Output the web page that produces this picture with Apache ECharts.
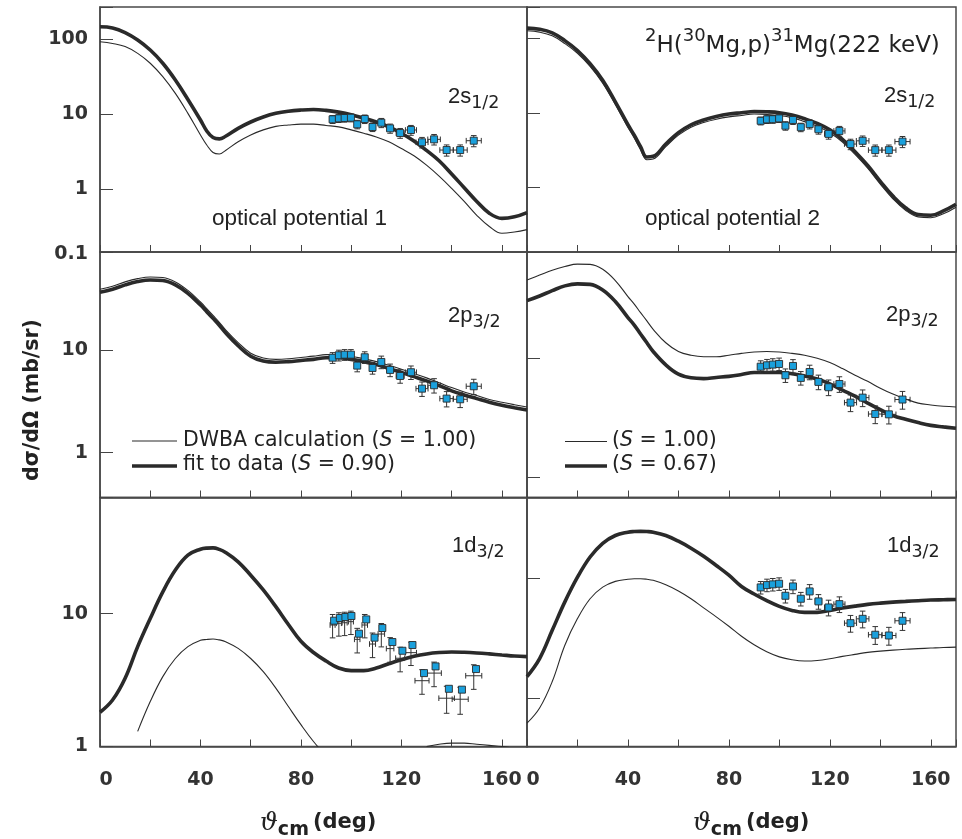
<!DOCTYPE html>
<html><head><meta charset="utf-8">
<script src="https://cdn.jsdelivr.net/npm/echarts@6.0.0/dist/echarts.min.js"></script>
<style>html,body{margin:0;padding:0;background:#fff}#c{width:962px;height:839px}</style>
</head><body><div id="c"></div>
<script>
// ---------- curve angles (deg) ----------
const curveAngles = [0,5,10,15,20,25,30,35,40,42.5,45,47.5,50,55,60,65,70,75,80,85,90,95,100,105,110,115,120,125,130,135,140,145,150,155,160,165,170];
// ---------- 2s1/2 ----------
const tlFit  = [147,142,123,98,72,48,28.7,15.8,8.4,6.0,4.9,4.7,5.1,6.5,7.9,9.2,10.3,11.0,11.4,11.6,11.3,10.7,9.9,8.9,7.9,6.8,5.6,4.4,3.3,2.4,1.6,1.05,0.69,0.48,0.41,0.43,0.49];
const tlDwba = [93,88,80,65,48,31.8,19,10.3,5.3,3.9,3.1,2.96,3.3,4.3,5.3,6.2,6.9,7.2,7.4,7.4,7.1,6.8,6.2,5.6,5.0,4.3,3.5,2.8,2.1,1.5,1.03,0.69,0.45,0.32,0.26,0.27,0.29];
const trFit  = [137,132,118,93,68.5,45.5,27.3,14,6.9,5.0,3.5,2.55,2.6,3.8,5.4,6.9,8.0,8.9,9.6,10.0,10.4,10.3,10.0,9.3,8.3,7.2,5.9,4.4,3.0,1.96,1.2,0.76,0.53,0.43,0.42,0.48,0.59];
const trDwba = [126,121,108,85,63,42,25,12.9,6.4,4.6,3.2,2.34,2.39,3.5,5.0,6.4,7.4,8.2,8.8,9.2,9.6,9.5,9.2,8.6,7.6,6.6,5.4,4.05,2.76,1.8,1.1,0.7,0.49,0.4,0.39,0.44,0.54];
// ---------- 2p3/2 ----------
const mlFit  = [36.5,39,43,46.3,48,47.4,43,35.6,27.4,23.6,20.3,17.4,14.7,11.0,8.7,7.8,7.6,7.7,7.9,8.1,8.4,8.4,8.1,7.7,7.2,6.6,6.05,5.5,5.0,4.5,4.0,3.65,3.36,3.1,2.9,2.74,2.6];
const mlDwba = [39,41.7,46,49.5,51.4,50.7,46,38,29.3,25.3,21.7,18.6,15.7,11.8,9.3,8.35,8.1,8.2,8.45,8.7,9.0,9.0,8.7,8.2,7.7,7.1,6.5,5.9,5.35,4.8,4.3,3.9,3.6,3.3,3.1,2.93,2.78];
const mrFit  = [30.5,33.4,37,40.6,42.2,41.8,37.5,30,22,19,16,13.5,11.4,8.8,7.35,6.85,6.75,6.9,7.05,7.3,7.6,7.6,7.6,7.4,7.1,6.7,6.1,5.4,4.8,4.2,3.7,3.3,3.07,2.88,2.73,2.65,2.58];
const mrDwba = [45.5,50,55,59,61.8,61.5,56,45,33,28.5,24.2,20.6,17.5,13.5,11.4,10.6,10.3,10.3,10.6,11.0,11.3,11.4,11.3,11.0,10.6,10.0,9.2,8.2,7.2,6.4,5.6,5.0,4.55,4.2,4.05,3.95,3.9];
// ---------- 1d3/2 ----------
const blFit  = [1.81,2.24,3.27,5.65,9.2,14.6,21.3,27.6,30.6,31.2,31.3,30.5,28.9,24.6,19.5,15.1,11.3,8.3,6.2,5.1,4.4,3.9,3.73,3.73,3.9,4.2,4.5,4.78,4.98,5.1,5.15,5.12,5.06,4.98,4.89,4.8,4.75];
const blDwba = [null,null,null,1.30,2.18,3.36,4.6,5.65,6.3,6.4,6.45,6.35,6.16,5.48,4.6,3.66,2.75,2.0,1.46,1.09,0.85,null,null,null,null,null,null,null,1.0,1.04,1.06,1.06,1.04,1.02,1.0,0.97,0.95];
const brFit  = [1.52,2.15,3.7,6.4,10.3,15.2,19.8,23,24.5,24.8,24.9,24.8,24.5,23,20.6,18.0,15.4,12.9,10.7,8.6,7.45,6.55,5.87,5.43,5.23,5.23,5.43,5.68,5.9,6.1,6.25,6.37,6.46,6.55,6.63,6.67,6.71];
const brDwba = [0.62,0.83,1.38,2.78,4.64,6.8,8.5,9.5,9.9,10,10,9.9,9.7,8.9,7.9,6.8,5.7,4.8,4.0,3.3,2.8,2.45,2.22,2.1,2.05,2.07,2.14,2.24,2.33,2.42,2.48,2.53,2.57,2.6,2.63,2.66,2.68];
// ---------- measured data ----------
const angles   = [92.6,95.1,97.4,99.9,102.4,105.4,108.5,112.0,115.5,119.5,123.8,128.2,133.0,138.0,143.4,148.8];
const angleErr = [1.0,1.0,1.0,1.0,1.0,1.0,1.1,1.2,1.3,1.6,2.2,2.4,2.5,2.7,2.8,3.0];
const sigmaErr = [0.12,0.12,0.12,0.12,0.13,0.13,0.13,0.14,0.14,0.15,0.15,0.16,0.16,0.17,0.17,0.17];
const tlData = [8.58,8.84,8.93,9.01,7.36,8.66,6.77,7.73,6.50,5.63,6.18,4.24,4.64,3.34,3.34,4.45];
const trData = [7.8,8.15,8.2,8.4,6.7,8.0,6.4,7.05,6.0,5.2,5.7,3.8,4.2,3.15,3.15,4.1];
const mlData = [8.41,8.88,9.0,9.0,7.04,8.49,6.68,7.64,6.39,5.58,6.07,4.20,4.53,3.36,3.31,4.43];
const mrData = [8.5,8.73,8.85,8.96,7.2,8.62,6.84,7.67,6.33,5.71,6.08,4.24,4.67,3.4,3.38,4.5];
const brData = [8.46,8.85,8.97,9.08,7.2,8.62,6.8,7.83,6.46,5.75,6.13,4.25,4.62,3.4,3.35,4.45];
const blAngles   = [93.2,95.5,97.7,100.1,103.1,106.0,109.3,112.4,116.4,120.4,124.4,129.0,133.6,138.9,144.1,149.7];
const blData     = [8.86,9.28,9.44,9.61,7.07,9.06,6.60,7.80,6.12,5.26,5.81,3.57,4.01,2.72,2.68,3.83];
const blBar      = [8.22,8.47,8.55,8.71,6.41,8.22,5.91,7.03,5.46,4.62,5.09,3.13,3.57,2.31,2.27,3.41];
const blAngleErr = [1.0,1.0,1.0,1.0,1.1,1.1,1.2,1.3,1.5,1.8,2.2,2.8,2.9,3.1,3.2,3.2];
const blSigmaErr = [0.2,0.2,0.2,0.2,0.21,0.2,0.21,0.2,0.21,0.21,0.2,0.21,0.21,0.23,0.23,0.21];
// ---------- axis ticks ----------
const xTickLabels = [0,40,80,120,160];

const FONT = "'Liberation Sans', Arial, Helvetica, sans-serif";
const WIDE = "'DejaVu Sans', Verdana, sans-serif";
const LINE = '#2a2a2a', FRAME = '#4a4a4a';

const panels = [
  {g:{left:100,top:7,width:427,height:245}, yMin:0.146, yMax:269.7, fit:tlFit, dwba:tlDwba, ptsX:angles, pts:tlData, barX:angles, bar:tlData, dx:angleErr, de:sigmaErr, yl:true, xl:false},
  {g:{left:527,top:7,width:429,height:245}, yMin:0.135, yMax:263, fit:trFit, dwba:trDwba, ptsX:angles, pts:trData, barX:angles, bar:trData, dx:angleErr, de:sigmaErr, yl:false, xl:false},
  {g:{left:100,top:252,width:427,height:245.5}, yMin:0.366, yMax:89.9, fit:mlFit, dwba:mlDwba, ptsX:angles, pts:mlData, barX:angles, bar:mlData, dx:angleErr, de:sigmaErr, yl:true, xl:false},
  {g:{left:527,top:252,width:429,height:245.5}, yMin:0.676, yMax:78.2, fit:mrFit, dwba:mrDwba, ptsX:angles, pts:mrData, barX:angles, bar:mrData, dx:angleErr, de:sigmaErr, yl:false, xl:false},
  {g:{left:100,top:497.5,width:427,height:249}, yMin:1, yMax:75, fit:blFit, dwba:blDwba, ptsX:blAngles, pts:blData, barX:angles, bar:blBar, dx:blAngleErr, de:blSigmaErr, yl:true, xl:true},
  {g:{left:527,top:497.5,width:429,height:249}, yMin:0.395, yMax:47.8, fit:brFit, dwba:brDwba, ptsX:angles, pts:brData, barX:angles, bar:brData, dx:angleErr, de:sigmaErr, yl:false, xl:true}
];

function isPow10(v){ const l = Math.log10(v); return Math.abs(l - Math.round(l)) < 1e-6; }

function errRender(params, api){
  const x = api.value(0), y = api.value(1), dx = api.value(2), lo = api.value(3), hi = api.value(4);
  const c = api.coord([x, y]);
  const pl = api.coord([x - dx, y]), pr = api.coord([x + dx, y]);
  const pLo = api.coord([x, lo]), pHi = api.coord([x, hi]);
  const cap = 2.8;
  const st = {stroke: '#333', lineWidth: 1};
  return {type:'group', children:[
    {type:'line', shape:{x1:c[0], y1:pHi[1], x2:c[0], y2:pLo[1]}, style:st},
    {type:'line', shape:{x1:c[0]-cap, y1:pHi[1], x2:c[0]+cap, y2:pHi[1]}, style:st},
    {type:'line', shape:{x1:c[0]-cap, y1:pLo[1], x2:c[0]+cap, y2:pLo[1]}, style:st},
    {type:'line', shape:{x1:pl[0], y1:c[1], x2:pr[0], y2:c[1]}, style:st},
    {type:'line', shape:{x1:pl[0], y1:c[1]-cap, x2:pl[0], y2:c[1]+cap}, style:st},
    {type:'line', shape:{x1:pr[0], y1:c[1]-cap, x2:pr[0], y2:c[1]+cap}, style:st}
  ]};
}

function xLabel(v){
  const r = Math.round(v);
  if (Math.abs(v - r) > 1e-6 || xTickLabels.indexOf(r) < 0) return '';
  return r === 0 ? '{z|0}' : String(r);
}

const grid = [], xAxis = [], yAxis = [], series = [];
panels.forEach((p, i) => {
  grid.push(Object.assign({show:true, borderColor:FRAME, borderWidth:1.5, backgroundColor:'transparent'}, p.g));
  xAxis.push({
    gridIndex:i, type:'value', min:0, max:170, interval:20,
    axisLine:{show:true, onZero:false, lineStyle:{color:FRAME, width:1.5}},
    axisTick:{show:true, inside:true, length:7, lineStyle:{color:'#444', width:1}},
    axisLabel:{show:p.xl, margin:24, color:'#333', fontFamily:WIDE, fontWeight:'bold', fontSize:19,
      formatter:xLabel,
      rich:{z:{fontFamily:WIDE, fontWeight:'bold', fontSize:19, color:'#333', padding:[0,0,0,12]}}},
    splitLine:{show:false}
  });
  yAxis.push({
    gridIndex:i, type:'log', logBase:10, min:p.yMin, max:p.yMax,
    axisLine:{show:true, onZero:false, lineStyle:{color:FRAME, width:1.5}},
    axisTick:{show:true, inside:true, length:13, lineStyle:{color:'#444', width:1}},
    minorTick:{show:false},
    axisLabel:{show:p.yl, margin:12, color:'#333', fontFamily:WIDE, fontWeight:'bold', fontSize:19,
      showMinLabel:true, showMaxLabel:true,
      formatter: v => isPow10(v) ? String(Math.round(v * 1000) / 1000) : ''},
    splitLine:{show:false}
  });
  series.push({
    type:'line', xAxisIndex:i, yAxisIndex:i, symbol:'none', smooth:0.4, silent:true,
    data: curveAngles.map((a, k) => [a, p.fit[k] == null ? null : p.fit[k]]),
    lineStyle:{color:LINE, width:3.6}, z:2
  });
  series.push({
    type:'line', xAxisIndex:i, yAxisIndex:i, symbol:'none', smooth:0.4, silent:true,
    data: curveAngles.map((a, k) => [a, p.dwba[k] == null ? null : p.dwba[k]]),
    lineStyle:{color:LINE, width:1.1}, z:3
  });
  series.push({
    type:'custom', xAxisIndex:i, yAxisIndex:i, silent:true, renderItem:errRender,
    encode:{x:0, y:1},
    data: p.barX.map((a, k) => [a, p.bar[k], p.dx[k], p.bar[k] * (1 - p.de[k]), p.bar[k] * (1 + p.de[k])]),
    z:4
  });
  series.push({
    type:'scatter', xAxisIndex:i, yAxisIndex:i, symbol:'rect', symbolSize:7, silent:true,
    data: p.ptsX.map((a, k) => [a, p.pts[k]]),
    itemStyle:{color:'#1AA0DC', borderColor:'#2a2a2a', borderWidth:0.9, opacity:1}, z:5
  });
});

function txt(x, y, text, opt){
  return {type:'text', x:x, y:y, silent:true, z:100,
    style:Object.assign({text:text, fill:'#222', fontFamily:FONT, fontSize:22,
      align:'left', verticalAlign:'middle', textAlign:'left', textVerticalAlign:'middle'}, opt || {})};
}
function orb(main, sub, x, y){
  return txt(x, y, '{m|' + main + '}{s|' + sub + '}', {rich:{
    m:{fontSize:22, fontFamily:FONT, fill:'#222', lineHeight:31, verticalAlign:'middle'},
    s:{fontSize:17.5, fontFamily:WIDE, fill:'#222', verticalAlign:'bottom'}}});
}
const supRich = {
  m:{fontSize:23, fontFamily:WIDE, fill:'#222', lineHeight:38, verticalAlign:'middle'},
  u:{fontSize:18, fontFamily:WIDE, fill:'#222', verticalAlign:'top'}
};
const legRich = {
  n:{fontSize:20.5, fontFamily:WIDE, fill:'#222'},
  i:{fontSize:20.5, fontFamily:WIDE, fontStyle:'italic', fill:'#222'}
};
const xTitleRich = {
  t:{fontSize:25, fontFamily:"'DejaVu Serif', serif", fontStyle:'italic', fill:'#222', lineHeight:34, verticalAlign:'middle'},
  s:{fontSize:19, fontFamily:WIDE, fontWeight:'bold', fill:'#222', verticalAlign:'bottom'},
  b:{fontSize:21, fontFamily:WIDE, fontWeight:'bold', fill:'#222', verticalAlign:'middle', padding:[0,0,0,4]}
};

const graphic = [
  orb('2s', '1/2', 448, 97),
  orb('2s', '1/2', 884, 96),
  orb('2p', '3/2', 448, 316),
  orb('2p', '3/2', 886, 315),
  orb('1d', '3/2', 452, 546),
  orb('1d', '3/2', 887, 546),
  txt(212, 219, 'optical potential 1', {fontSize:22.5}),
  txt(645, 219, 'optical potential 2', {fontSize:22.5}),
  txt(645, 46, '{u|2}{m|H(}{u|30}{m|Mg,p)}{u|31}{m|Mg(222 keV)}', {rich:supRich}),
  // legends
  {type:'line', silent:true, z:100, shape:{x1:132, y1:441, x2:177, y2:441}, style:{stroke:LINE, lineWidth:1.1}},
  {type:'line', silent:true, z:100, shape:{x1:132, y1:466, x2:177, y2:466}, style:{stroke:LINE, lineWidth:3.6}},
  txt(183, 441, '{n|DWBA calculation (}{i|S}{n| = 1.00)}', {rich:legRich}),
  txt(183, 465, '{n|fit to data (}{i|S}{n| = 0.90)}', {rich:legRich}),
  {type:'line', silent:true, z:100, shape:{x1:565, y1:441.5, x2:607, y2:441.5}, style:{stroke:LINE, lineWidth:1.1}},
  {type:'line', silent:true, z:100, shape:{x1:565, y1:466, x2:607, y2:466}, style:{stroke:LINE, lineWidth:3.6}},
  txt(612, 441, '{n|(}{i|S}{n| = 1.00)}', {rich:legRich}),
  txt(612, 465, '{n|(}{i|S}{n| = 0.67)}', {rich:legRich}),
  // extra y label at panel boundary
  txt(88, 254, '0.1', {fontFamily:WIDE, fontWeight:'bold', fontSize:19, fill:'#333', align:'right', textAlign:'right'}),
  // axis titles
  {type:'text', x:33, y:400, rotation:Math.PI/2, silent:true, z:100,
    style:{text:'dσ/dΩ (mb/sr)', fill:'#222', fontFamily:WIDE, fontWeight:'bold', fontSize:20.5,
      align:'center', verticalAlign:'middle', textAlign:'center', textVerticalAlign:'middle'}},
  txt(260, 823, '{t|ϑ}{s|cm}{b|(deg)}', {rich:xTitleRich}),
  txt(693, 823, '{t|ϑ}{s|cm}{b|(deg)}', {rich:xTitleRich})
];

const chart = echarts.init(document.getElementById('c'), null, {renderer:'canvas', width:962, height:839});
chart.setOption({
  animation:false,
  backgroundColor:'#fff',
  grid:grid, xAxis:xAxis, yAxis:yAxis, series:series, graphic:graphic
});
</script>
</body></html>
